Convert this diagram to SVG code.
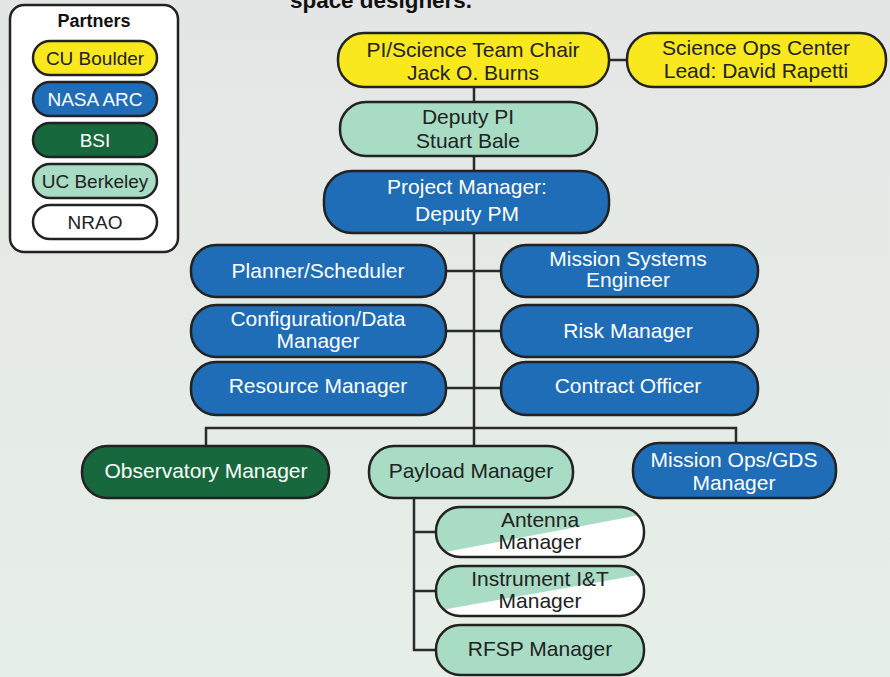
<svg xmlns="http://www.w3.org/2000/svg" width="890" height="677" viewBox="0 0 890 677">
  <defs>
    <linearGradient id="bg" x1="0" y1="0" x2="0" y2="1">
      <stop offset="0" stop-color="#e4e6e6"/>
      <stop offset="1" stop-color="#e6efe7"/>
    </linearGradient>
    <clipPath id="clipAntenna"><rect x="436" y="507" width="208" height="50" rx="24"/></clipPath>
    <clipPath id="clipInstrument"><rect x="436" y="566" width="208" height="50" rx="24"/></clipPath>
    <style>
      text { font-family: "Liberation Sans", Arial, sans-serif; font-size: 21px; text-anchor: middle; }
      .pill { stroke: #222; stroke-width: 2.5; }
      .yellow { fill: #f9e81e; }
      .blue { fill: #1f6db6; }
      .dkgreen { fill: #17683c; }
      .mint { fill: #a8dcc4; }
      .white { fill: #ffffff; }
      .dark { fill: #222; }
      .light { fill: #ffffff; }
      .conn { stroke: #2a2a2a; stroke-width: 2.5; fill: none; }
      .legend-t { font-size: 19px; }
    </style>
  </defs>

  <rect width="890" height="677" fill="url(#bg)"/>

  <!-- caption fragment at the top edge -->
  <text x="290" y="8" style="font-weight:bold;font-size:22px;text-anchor:start" textLength="182" lengthAdjust="spacingAndGlyphs" fill="#111">space designers.</text>

  <!-- legend -->
  <g id="legend">
    <rect x="10" y="5" width="168" height="247" rx="14" fill="#fff" stroke="#222" stroke-width="2.5"/>
    <text x="94" y="27" style="font-weight:bold;font-size:18px" fill="#111">Partners</text>
    <rect class="pill yellow" x="33" y="41" width="124" height="34" rx="17"/>
    <text class="legend-t dark" x="95" y="65">CU Boulder</text>
    <rect class="pill blue" x="33" y="82" width="124" height="34" rx="17"/>
    <text class="legend-t light" x="95" y="106">NASA ARC</text>
    <rect class="pill dkgreen" x="33" y="123" width="124" height="34" rx="17"/>
    <text class="legend-t light" x="95" y="147">BSI</text>
    <rect class="pill mint" x="33" y="164" width="124" height="34" rx="17"/>
    <text class="legend-t dark" x="95" y="188">UC Berkeley</text>
    <rect class="pill white" x="33" y="205" width="124" height="34" rx="17"/>
    <text class="legend-t dark" x="95" y="229">NRAO</text>
  </g>

  <!-- connectors -->
  <g id="connectors">
    <line class="conn" x1="609" y1="60" x2="627" y2="60"/>
    <line class="conn" x1="474" y1="87" x2="474" y2="446"/>
    <line class="conn" x1="446" y1="271" x2="501" y2="271"/>
    <line class="conn" x1="446" y1="331" x2="501" y2="331"/>
    <line class="conn" x1="446" y1="388" x2="501" y2="388"/>
    <polyline class="conn" points="206,446 206,428 736,428 736,443"/>
    <line class="conn" x1="414" y1="498" x2="414" y2="651"/>
    <line class="conn" x1="413" y1="532" x2="436" y2="532"/>
    <line class="conn" x1="413" y1="591" x2="436" y2="591"/>
    <line class="conn" x1="413" y1="650" x2="436" y2="650"/>
  </g>

  <g id="pi">
    <rect class="pill yellow" x="338" y="33" width="271" height="54" rx="26"/>
    <text class="dark" x="473" y="57">PI/Science Team Chair</text>
    <text class="dark" x="473" y="80">Jack O. Burns</text>
  </g>
  <g id="science-ops">
    <rect class="pill yellow" x="627" y="33" width="259" height="54" rx="26"/>
    <text class="dark" x="756" y="55">Science Ops Center</text>
    <text class="dark" x="756" y="78">Lead: David Rapetti</text>
  </g>
  <g id="deputy-pi">
    <rect class="pill mint" x="340" y="102" width="257" height="54" rx="26"/>
    <text class="dark" x="468" y="124">Deputy PI</text>
    <text class="dark" x="468" y="148">Stuart Bale</text>
  </g>
  <g id="project-manager">
    <rect class="pill blue" x="324" y="171" width="285" height="62" rx="28"/>
    <text class="light" x="467" y="194">Project Manager:</text>
    <text class="light" x="467" y="221">Deputy PM</text>
  </g>
  <g id="planner">
    <rect class="pill blue" x="191" y="245" width="255" height="52" rx="25"/>
    <text class="light" x="318" y="278">Planner/Scheduler</text>
  </g>
  <g id="mission-systems">
    <rect class="pill blue" x="501" y="245" width="257" height="52" rx="25"/>
    <text class="light" x="628" y="266">Mission Systems</text>
    <text class="light" x="628" y="287">Engineer</text>
  </g>
  <g id="config-data">
    <rect class="pill blue" x="191" y="305" width="255" height="52" rx="25"/>
    <text class="light" x="318" y="326">Configuration/Data</text>
    <text class="light" x="318" y="348">Manager</text>
  </g>
  <g id="risk">
    <rect class="pill blue" x="501" y="305" width="257" height="52" rx="25"/>
    <text class="light" x="628" y="338">Risk Manager</text>
  </g>
  <g id="resource">
    <rect class="pill blue" x="191" y="362" width="255" height="53" rx="25"/>
    <text class="light" x="318" y="393">Resource Manager</text>
  </g>
  <g id="contract">
    <rect class="pill blue" x="501" y="362" width="257" height="53" rx="25"/>
    <text class="light" x="628" y="393">Contract Officer</text>
  </g>
  <g id="observatory">
    <rect class="pill dkgreen" x="82" y="446" width="247" height="52" rx="25"/>
    <text class="light" x="206" y="478">Observatory Manager</text>
  </g>
  <g id="payload">
    <rect class="pill mint" x="369" y="446" width="204" height="52" rx="25"/>
    <text class="dark" x="471" y="478">Payload Manager</text>
  </g>
  <g id="mission-ops">
    <rect class="pill blue" x="633" y="443" width="203" height="55" rx="26"/>
    <text class="light" x="734" y="467">Mission Ops/GDS</text>
    <text class="light" x="734" y="490">Manager</text>
  </g>
  <g id="antenna">
    <rect x="436" y="507" width="208" height="50" rx="24" fill="#fff"/>
    <polygon class="mint" points="430,505 650,505 650,513 430,555" clip-path="url(#clipAntenna)"/>
    <rect x="436" y="507" width="208" height="50" rx="24" fill="none" stroke="#222" stroke-width="2.5"/>
    <text class="dark" x="540" y="527">Antenna</text>
    <text class="dark" x="540" y="549">Manager</text>
  </g>
  <g id="instrument">
    <rect x="436" y="566" width="208" height="50" rx="24" fill="#fff"/>
    <polygon class="mint" points="430,564 650,564 650,573 430,612" clip-path="url(#clipInstrument)"/>
    <rect x="436" y="566" width="208" height="50" rx="24" fill="none" stroke="#222" stroke-width="2.5"/>
    <text class="dark" x="540" y="586">Instrument I&amp;T</text>
    <text class="dark" x="540" y="608">Manager</text>
  </g>
  <g id="rfsp">
    <rect class="pill mint" x="436" y="625" width="208" height="50" rx="24"/>
    <text class="dark" x="540" y="656">RFSP Manager</text>
  </g>
</svg>
